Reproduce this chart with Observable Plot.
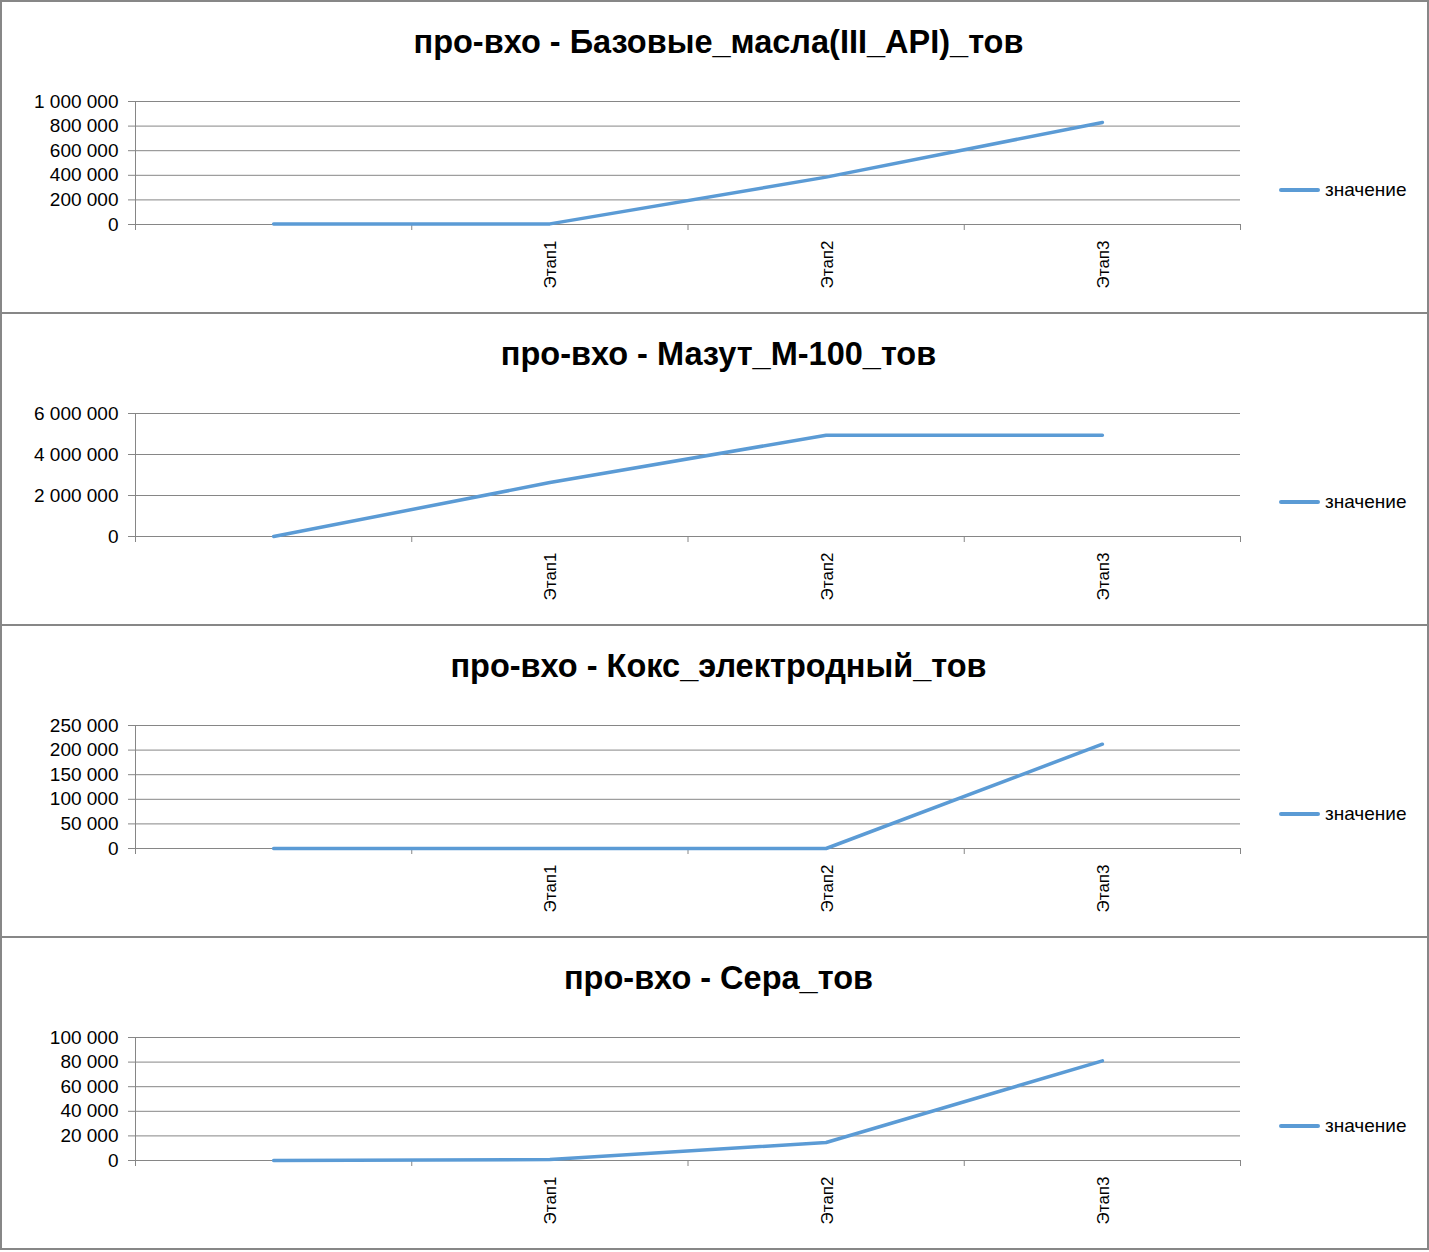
<!DOCTYPE html>
<html>
<head>
<meta charset="utf-8">
<script src="https://cdn.jsdelivr.net/npm/d3@7"></script>
<script src="https://cdn.jsdelivr.net/npm/@observablehq/plot@0.6"></script>
<style>
  html, body { margin: 0; padding: 0; background: #fff; }
  #root { position: relative; width: 1429px; height: 1252px; overflow: hidden; font-family: "Liberation Sans", Arial, sans-serif; }
  .frame { position: absolute; left: 0; width: 1429px; height: 314px; box-sizing: border-box; border: 2px solid #878787; }
  .title { position: absolute; left: 4px; width: 1429px; text-align: center; font-weight: bold; font-size: 32.5px; line-height: 38px; color: #000; }
  .plot { position: absolute; left: 0; }
  .legend { position: absolute; left: 1279px; display: flex; align-items: center; font-size: 19px; color: #000; }
  .legend .sw { width: 41px; height: 3.5px; background: #5B9BD5; border-radius: 2px; margin-right: 5px; }
</style>
</head>
<body>
<div id="root"></div>
<script>
// ---- data ----
const categories = ["", "Этап1", "Этап2", "Этап3"];
const titles = [
  "про-вхо - Базовые_масла(III_API)_тов",
  "про-вхо - Мазут_М-100_тов",
  "про-вхо - Кокс_электродный_тов",
  "про-вхо - Сера_тов"
];
const seriesName = "значение";
const baseOilValues = [5000, 5000, 385000, 830000];
const mazutValues = [0, 2630000, 4940000, 4940000];
const cokeValues = [0, 0, 0, 212000];
const sulfurValues = [0, 800, 14600, 81000];
const baseOilTicks = [0, 200000, 400000, 600000, 800000, 1000000];
const mazutTicks = [0, 2000000, 4000000, 6000000];
const cokeTicks = [0, 50000, 100000, 150000, 200000, 250000];
const sulfurTicks = [0, 20000, 40000, 60000, 80000, 100000];

const panels = [
  {title: titles[0], values: baseOilValues, ticks: baseOilTicks},
  {title: titles[1], values: mazutValues, ticks: mazutTicks},
  {title: titles[2], values: cokeValues, ticks: cokeTicks},
  {title: titles[3], values: sulfurValues, ticks: sulfurTicks}
];

const root = document.getElementById("root");
const grey = "#868686";
const blue = "#5B9BD5";
const fmt = v => d3.format(",")(v).replace(/,/g, " ");
const PANEL_H = 312;

panels.forEach((p, k) => {
  const top = k * PANEL_H;

  const frame = document.createElement("div");
  frame.className = "frame";
  frame.style.top = top + "px";
  root.appendChild(frame);

  const title = document.createElement("div");
  title.className = "title";
  title.style.top = (top + 23) + "px";
  title.textContent = p.title;
  root.appendChild(title);

  const data = p.values.map((v, i) => ({pos: i + 0.5, cat: categories[i], value: v}));
  const ymax = p.ticks[p.ticks.length - 1];
  const boundaries = categories.map((c, i) => i).concat([categories.length]);
  const centers = categories.map((c, i) => i + 0.5);

  const chart = Plot.plot({
    width: 1429,
    height: 214,
    marginLeft: 135,
    marginRight: 189,
    marginTop: 21,
    marginBottom: 70,
    style: {fontFamily: "Liberation Sans, Arial, sans-serif", fontSize: "19px", color: "#000", background: "transparent", overflow: "visible"},
    x: {type: "linear", domain: [0, categories.length]},
    y: {domain: [0, ymax]},
    marks: [
      Plot.gridY(p.ticks, {stroke: grey, strokeOpacity: 1, strokeWidth: 1}),
      Plot.ruleX([0], {stroke: grey, strokeWidth: 1}),
      Plot.ruleY([0], {stroke: grey, strokeWidth: 1}),
      Plot.axisY({ticks: p.ticks, tickSize: 7, tickPadding: 10, tickFormat: fmt, label: null, stroke: grey, fill: "#000", fontSize: 19}),
      Plot.axisX({ticks: boundaries, tickSize: 6, tickFormat: () => "", label: null, stroke: grey}),
      Plot.axisX({ticks: centers, tickSize: 0, tickPadding: 16, tickRotate: -90, tickFormat: d => categories[Math.floor(d)], label: null, fill: "#000", fontSize: 17, dx: 1}),
      Plot.line(data, {x: "pos", y: "value", stroke: blue, strokeWidth: 3.5, strokeLinecap: "round", strokeLinejoin: "round"})
    ]
  });
  chart.classList.add("plot");
  chart.style.top = (top + 80) + "px";
  root.appendChild(chart);

  const legend = document.createElement("div");
  legend.className = "legend";
  legend.style.top = (top + 190 - 11) + "px";
  legend.style.height = "22px";
  legend.innerHTML = '<div class="sw"></div><span></span>';
  legend.querySelector("span").textContent = seriesName;
  root.appendChild(legend);
});
</script>
</body>
</html>
